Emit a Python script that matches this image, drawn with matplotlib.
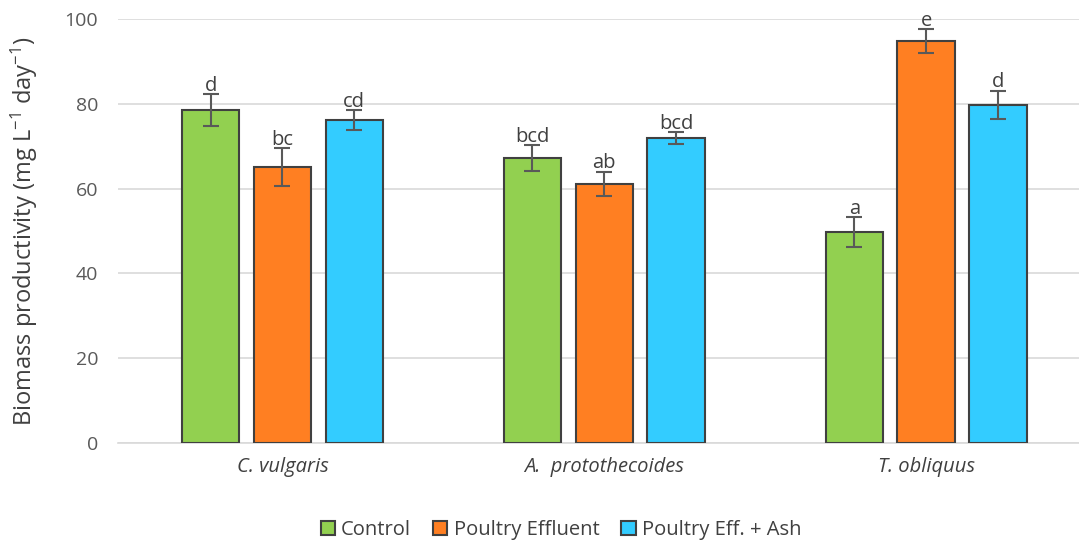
import matplotlib.pyplot as plt
import numpy as np

# Biomass productivity per species and medium (mg L-1 day-1)
species = ['C. vulgaris', 'A.  protothecoides', 'T. obliquus']
treatments = ['Control', 'Poultry Effluent', 'Poultry Eff. + Ash']
control = [78.5, 67.2, 49.8]
poultry = [65.1, 61.1, 94.8]
poultry_ash = [76.2, 71.9, 79.7]
control_err = [3.8, 3.0, 3.5]
poultry_err = [4.5, 2.9, 2.8]
poultry_ash_err = [2.3, 1.4, 3.4]
control_lbl = ['d', 'bcd', 'a']
poultry_lbl = ['bc', 'ab', 'e']
poultry_ash_lbl = ['cd', 'bcd', 'd']

colors = ['#92D050', '#FF7F22', '#33CCFF']
edge = '#404040'
text_col = '#404040'

plt.rcParams['font.family'] = ['Open Sans', 'DejaVu Sans']
plt.rcParams['mathtext.default'] = 'regular'

fig = plt.figure(figsize=(10.79, 5.42), dpi=100)
ax = fig.add_axes([0.109, 0.183, 0.891, 0.782])

x = np.arange(len(species))
width = 0.178
step = 0.223
series = [(control, control_err, control_lbl),
          (poultry, poultry_err, poultry_lbl),
          (poultry_ash, poultry_ash_err, poultry_ash_lbl)]

for i, (vals, errs, lbls) in enumerate(series):
	pos = x + (i - 1) * step
	ax.bar(pos, vals, width, color=colors[i], edgecolor=edge, linewidth=1.5,
	       label=treatments[i], zorder=3)
	ax.errorbar(pos, vals, yerr=errs, fmt='none', ecolor='#595959',
	            elinewidth=1.5, capsize=6, capthick=1.5, zorder=4)
	for p, v, e, t in zip(pos, vals, errs, lbls):
		ax.text(p, v + e - 0.4, t, ha='center', va='bottom', fontsize=14.5,
		        color=text_col, zorder=5)

ax.set_xlim(-0.512, 2.475)
ax.set_ylim(0, 100)
ax.set_yticks(np.arange(0, 101, 20))
ax.tick_params(axis='y', length=0, labelsize=14, labelcolor='#595959', pad=14)
ax.tick_params(axis='x', length=0, labelsize=14.5, labelcolor=text_col, pad=10)
ax.set_xticks(x)
ax.set_xticklabels(species, style='italic')
ax.grid(axis='y', color='#D9D9D9', linewidth=1.2, zorder=0)
for s in ['top', 'right', 'left']:
	ax.spines[s].set_visible(False)
ax.spines['bottom'].set_color('#D9D9D9')
ax.spines['bottom'].set_linewidth(1.2)

ax.set_ylabel('Biomass productivity (mg L$^{-1}$ day$^{-1}$)', fontsize=17,
              color=text_col, labelpad=18)

fig.legend(loc='lower center', bbox_to_anchor=(0.52, -0.03), ncol=3,
           frameon=False, fontsize=14.5, handlelength=0.7, handleheight=0.7,
           handletextpad=0.3, columnspacing=1.1, labelcolor=text_col)

fig.savefig('out.png', dpi=100)
